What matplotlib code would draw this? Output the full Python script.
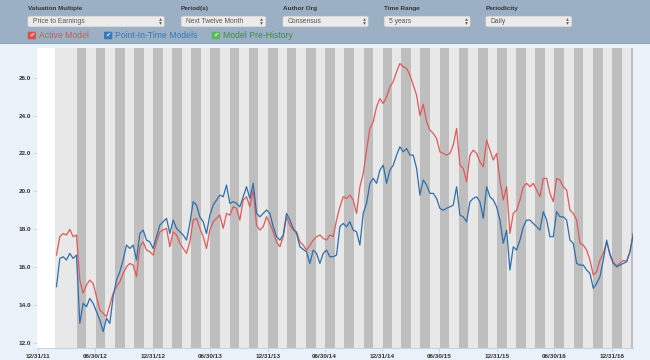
import pandas as pd
import matplotlib
matplotlib.use("Agg")
import matplotlib.pyplot as plt
from matplotlib.patches import FancyBboxPatch, Rectangle
from matplotlib.lines import Line2D

# dropdown controls above the chart
control_labels = ["Valuation Multiple", "Period(s)", "Author Org", "Time Range", "Periodicity"]
control_values = ["Price to Earnings", "Next Twelve Month", "Consensus", "5 years", "Daily"]
legend_labels = ["Active Model", "Point-In-Time Models", "Model Pre-History"]

# P/E series, sampled evenly between first_date and last_date
first_date = "2012-02-27"
last_date = "2017-03-09"
history_start = "2012-02-22"

active_model = [
    16.63, 17.60, 17.77, 17.69, 17.99, 17.60, 17.69, 15.31, 14.61, 15.05,
    15.31, 15.13, 14.43, 13.73, 13.55, 13.37, 13.99, 14.61, 14.96, 15.22,
    15.66, 16.01, 16.19, 16.10, 15.49, 17.07, 17.33, 16.89, 16.81, 16.63,
    17.33, 17.86, 17.95, 18.04, 17.07, 17.86, 17.69, 17.25, 16.98, 16.72,
    17.33, 18.48, 18.57, 18.04, 17.60, 16.98, 17.95, 18.39, 18.57, 18.74,
    18.04, 18.83, 18.74, 19.18, 19.10, 18.48, 19.54, 19.71, 19.18, 20.06,
    18.21, 17.95, 18.13, 18.65, 18.30, 17.86, 17.33, 17.07, 17.60, 18.65,
    18.21, 17.95, 17.86, 17.33, 17.16, 16.89, 17.16, 17.42, 17.60, 17.69,
    17.51, 17.42, 17.69, 17.60, 18.48, 19.18, 19.71, 19.62, 19.80, 19.54,
    18.83, 20.24, 20.94, 22.18, 23.32, 23.67, 24.46, 24.90, 24.64, 24.99,
    25.52, 25.79, 26.31, 26.75, 26.58, 26.49, 26.14, 25.61, 25.08, 24.00,
    24.60, 23.67, 23.23, 23.06, 22.79, 22.09, 22.00, 21.91, 22.00, 22.44,
    23.32, 21.38, 21.21, 20.50, 21.91, 22.18, 22.00, 21.56, 21.30, 22.70,
    22.18, 21.65, 22.00, 20.59, 19.54, 20.24, 17.77, 18.83, 19.01, 19.54,
    20.24, 20.42, 20.24, 20.42, 20.06, 19.71, 20.68, 20.68, 19.89, 19.45,
    20.68, 20.59, 20.24, 20.06, 19.01, 18.83, 18.48, 17.25, 17.16, 16.89,
    16.37, 15.57, 15.75, 16.37, 16.72, 17.30, 16.70, 16.25, 16.05, 16.20,
    16.35, 16.30, 16.81, 17.77,
]

pit_models = [
    14.96, 16.45, 16.54, 16.37, 16.72, 16.45, 16.63, 13.02, 14.08, 13.90,
    14.34, 14.08, 13.64, 13.20, 12.58, 13.29, 13.02, 14.43, 15.31, 15.75,
    16.37, 17.16, 16.98, 17.16, 16.37, 17.77, 17.95, 17.42, 17.33, 16.98,
    17.60, 18.21, 18.39, 18.57, 17.77, 18.48, 18.04, 17.86, 17.69, 17.42,
    18.30, 19.45, 19.27, 18.65, 18.39, 17.77, 18.74, 19.27, 19.54, 19.80,
    19.71, 20.33, 19.36, 19.45, 19.36, 19.18, 19.71, 20.24, 19.62, 20.42,
    18.83, 18.65, 18.83, 19.01, 18.83, 18.13, 17.60, 17.42, 17.69, 18.83,
    18.48, 18.04, 17.77, 17.07, 16.93, 16.80, 16.19, 16.89, 16.72, 16.19,
    16.72, 16.89, 16.54, 16.54, 16.63, 18.13, 18.30, 18.13, 18.39, 17.95,
    17.86, 17.16, 18.83, 19.36, 20.42, 20.68, 20.42, 21.12, 21.38, 20.42,
    21.12, 21.38, 21.91, 22.35, 22.09, 22.26, 21.91, 21.91, 21.21, 19.80,
    20.60, 20.33, 19.89, 19.89, 19.62, 19.10, 19.00, 19.10, 19.18, 19.27,
    20.24, 18.74, 18.65, 18.39, 19.45, 19.62, 19.71, 19.45, 18.57, 20.24,
    19.71, 19.54, 19.18, 18.48, 17.25, 17.95, 15.84, 17.07, 16.89, 17.42,
    18.13, 18.48, 18.48, 18.30, 18.13, 17.95, 18.92, 18.48, 17.60, 17.60,
    18.92, 18.65, 18.65, 18.48, 17.42, 17.25, 16.19, 16.10, 16.10, 15.84,
    15.66, 14.87, 15.13, 15.49, 16.37, 17.42, 16.63, 16.19, 16.01, 16.10,
    16.19, 16.28, 16.81, 17.77,
]

tick_dates = ["2011-12-31", "2012-06-30", "2012-12-31", "2013-06-30", "2013-12-31",
              "2014-06-30", "2014-12-31", "2015-06-30", "2015-12-31", "2016-06-30",
              "2016-12-31"]
tick_labels = ["12/31/11", "06/30/12", "12/31/12", "06/30/13", "12/31/13",
               "06/30/14", "12/31/14", "06/30/15", "12/31/15", "06/30/16",
               "12/31/16"]
y_ticks = [12, 14, 16, 18, 20, 22, 24, 26]

W, H = 650.0, 360.0
RED = "#e05a59"
BLUE = "#2f6fac"


def fx(x):
    return x / W


def fy(y):
    return 1 - y / H


plt.rcParams["font.family"] = ["Liberation Sans", "DejaVu Sans"]
fig = plt.figure(figsize=(6.5, 3.6), dpi=100)
fig.patch.set_facecolor("#eaf1f9")

# top control bar
fig.add_artist(Rectangle((0, fy(43)), 1, 43 / H, transform=fig.transFigure,
                         facecolor="#9cb0c5", edgecolor="none", zorder=0))
fig.add_artist(Rectangle((0, fy(44)), 1, 1.3 / H, transform=fig.transFigure,
                         facecolor="#8ea3b9", edgecolor="none", zorder=0))

box_left = [27.7, 181, 282.7, 384, 485.5]
box_width = [137, 85, 86, 86.5, 86.5]
for label, value, left, width in zip(control_labels, control_values, box_left, box_width):
    fig.text(fx(left), fy(8.5), label, fontsize=4.6, fontweight="bold",
             color="#333333", va="center")
    fig.add_artist(FancyBboxPatch((fx(left), fy(27)), width / W, 11 / H,
                                  boxstyle="round,pad=0,rounding_size=0.004",
                                  transform=fig.transFigure, facecolor="#ebebeb",
                                  edgecolor="#b5b5b5", lw=0.5))
    fig.text(fx(left + 5), fy(21.3), value, fontsize=4.9, color="#555555", va="center")
    # select arrows
    fig.add_artist(Line2D([fx(left + width - 5)], [fy(19.3)], marker="^", markersize=1.9,
                          markeredgewidth=0, color="#555555", lw=0,
                          transform=fig.transFigure))
    fig.add_artist(Line2D([fx(left + width - 5)], [fy(23.1)], marker="v", markersize=1.9,
                          markeredgewidth=0, color="#555555", lw=0,
                          transform=fig.transFigure))

# legend with check boxes
check_left = [27.7, 104, 211.7]
check_colors = ["#d9534f", "#337ab7", "#5cb85c"]
text_colors = ["#d9534f", "#337ab7", "#3d8b3d"]
for label, left, ccol, tcol in zip(legend_labels, check_left, check_colors, text_colors):
    fig.add_artist(FancyBboxPatch((fx(left), fy(39.3)), 8.3 / W, 7.6 / H,
                                  boxstyle="round,pad=0,rounding_size=0.002",
                                  transform=fig.transFigure, facecolor=ccol,
                                  edgecolor="none"))
    fig.text(fx(left + 4.15), fy(35.4), "✔", fontsize=4.5, color="white",
             ha="center", va="center", family=["DejaVu Sans"])
    fig.text(fx(left + 11), fy(35.6), label, fontsize=6.2, color=tcol, va="center")

# chart
ax = fig.add_axes([fx(37), fy(348), 596 / W, 300 / H])
ax.set_facecolor("white")

x_left = pd.Timestamp("2011-12-27")
x_right = pd.Timestamp("2017-03-08")
ax.axvspan(pd.Timestamp(history_start), x_right, color="#e8e8e8", lw=0)
for m in pd.date_range("2012-05-01", "2017-03-01", freq="2MS"):
    ax.axvspan(m, m + pd.offsets.MonthBegin(1), color="#bebebe", lw=0)

dates = pd.date_range(first_date, last_date, periods=len(active_model))
ax.plot(dates, active_model, color=RED, lw=0.9)
ax.plot(dates, pit_models, color=BLUE, lw=0.9)

ax.set_xlim(x_left, x_right)
ax.set_ylim(11.72, 27.57)
ax.set_yticks(y_ticks)
ax.set_yticklabels([f"{v:.1f}" for v in y_ticks])
ax.set_xticks(pd.to_datetime(tick_dates))
ax.set_xticklabels(tick_labels)
ax.tick_params(axis="both", labelsize=4.6, colors="#c5d5e6", labelcolor="#333333",
               length=3, width=0.6, pad=1.5)
for lab in ax.get_xticklabels() + ax.get_yticklabels():
    lab.set_fontweight("bold")
for side in ["top", "right", "left"]:
    ax.spines[side].set_visible(False)
ax.spines["bottom"].set_color("#c5d5e6")
ax.spines["bottom"].set_linewidth(0.8)

fig.savefig("out.png", dpi=100, facecolor=fig.get_facecolor())
